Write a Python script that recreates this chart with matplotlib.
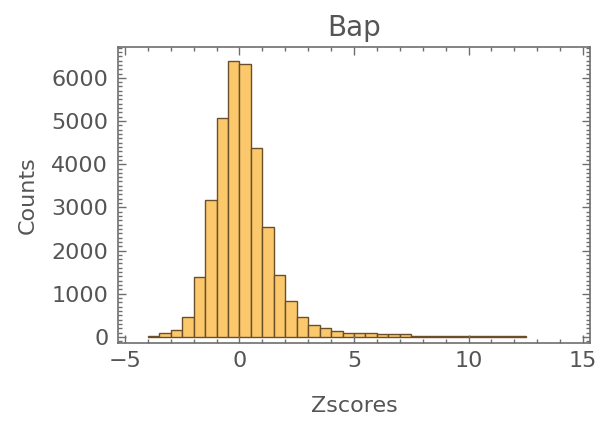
import numpy as np
import matplotlib.pyplot as plt
from matplotlib.ticker import MultipleLocator

# bin edges (width 0.5) and counts
bin_lefts = [-4.0, -3.5, -3.0, -2.5, -2.0, -1.5, -1.0, -0.5, 0.0, 0.5,
             1.0, 1.5, 2.0, 2.5, 3.0, 3.5, 4.0, 4.5, 5.0, 5.5,
             6.0, 6.5, 7.0, 7.5, 8.0, 8.5, 9.0, 9.5, 10.0, 10.5,
             11.0, 11.5, 12.0]
counts = [30, 95, 165, 470, 1396, 3170, 5080, 6380, 6320, 4370,
          2550, 1430, 830, 470, 278, 200, 140, 100, 85, 80,
          75, 70, 65, 30, 25, 22, 20, 18, 16, 15,
          14, 13, 12]
bin_width = 0.5

fill = '#fbc86c'
edge = '#6b4f2a'
frame = '#6e6e6e'
text_col = '#555555'

fig = plt.figure(figsize=(5.99, 4.33), dpi=100)
ax = fig.add_axes([0.197, 0.208, 0.788, 0.683])

ax.bar(bin_lefts, counts, width=bin_width, align='edge',
       color=fill, edgecolor=edge, linewidth=1.0)

ax.set_xlim(-5.3, 15.3)
ax.set_ylim(-140, 6710)

ax.xaxis.set_major_locator(MultipleLocator(5))
ax.xaxis.set_minor_locator(MultipleLocator(1))
ax.yaxis.set_major_locator(MultipleLocator(1000))
ax.yaxis.set_minor_locator(MultipleLocator(100))

ax.tick_params(which='both', direction='in', top=True, right=True,
               color=frame, labelcolor=text_col, labelsize=16, width=1.0)
ax.tick_params(which='major', length=6, pad=6)
ax.tick_params(which='minor', length=3)
ax.tick_params(axis='y', which='major', pad=7)

for s in ax.spines.values():
    s.set_color(frame)
    s.set_linewidth(1.2)

ax.set_title('Bap', fontsize=20, color=text_col, pad=8)
ax.set_xlabel('Zscores', fontsize=16, color=text_col, labelpad=18)
ax.set_ylabel('Counts', fontsize=16, color=text_col, labelpad=10)

plt.savefig('out.png', dpi=100)
